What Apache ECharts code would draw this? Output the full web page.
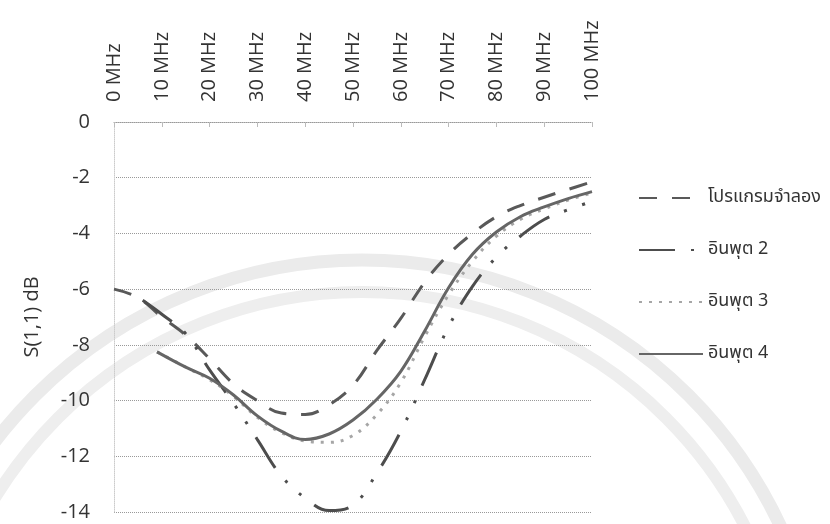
<!DOCTYPE html>
<html>
<head>
<meta charset="utf-8">
<script src="https://cdn.jsdelivr.net/npm/echarts@6/dist/echarts.min.js"></script>
<style>
html,body{margin:0;padding:0;background:#fff;}
#chart{width:830px;height:524px;}
</style>
</head>
<body>
<div id="chart"></div>
<script>
// ความถี่ (MHz) กับค่า S(1,1) dB ของแต่ละเส้น
const simMHz = [0, 5, 10, 15, 20, 25, 30, 35, 40, 45, 50, 55, 60, 65, 70, 75, 80, 85, 90, 95, 100];
const simDb  = [-6.0, -6.3, -7.0, -7.65, -8.5, -9.4, -10.0, -10.45, -10.5, -10.15, -9.45, -8.2, -7.05, -5.75, -4.75, -4.0, -3.4, -3.0, -2.7, -2.42, -2.15];

const in2MHz = [6, 10, 15, 20, 25, 30, 35, 40, 45, 50, 55, 60, 65, 70, 75, 80, 85, 90, 95, 100];
const in2Db  = [-6.4, -6.9, -7.6, -8.9, -10.1, -11.4, -12.7, -13.5, -13.95, -13.75, -12.6, -11.1, -9.25, -7.35, -5.9, -4.85, -4.1, -3.5, -3.15, -2.85];

const in3MHz = [9, 15, 20, 25, 30, 35, 40, 45, 50, 55, 60, 65, 70, 75, 80, 85, 90, 95, 100];
const in3Db  = [-8.25, -8.8, -9.25, -9.85, -10.6, -11.15, -11.45, -11.5, -11.25, -10.5, -9.35, -7.7, -6.2, -5.0, -4.1, -3.5, -3.12, -2.8, -2.55];

const in4MHz = [9, 15, 20, 25, 30, 35, 40, 45, 50, 55, 60, 65, 70, 75, 80, 85, 90, 95, 100];
const in4Db  = [-8.25, -8.8, -9.2, -9.8, -10.55, -11.1, -11.4, -11.2, -10.7, -9.95, -8.95, -7.5, -5.95, -4.75, -3.95, -3.4, -3.05, -2.75, -2.5];

const seriesNames = ['โปรแกรมจำลอง', 'อินพุต 2', 'อินพุต 3', 'อินพุต 4'];

const pairs = (xs, ys) => xs.map((x, i) => [x, ys[i]]);
const thaiFont = '"Noto Sans Thai", "Tahoma", "DejaVu Sans", sans-serif';

let chart = echarts.init(document.getElementById('chart'));
chart.setOption({
    animation: false,
    backgroundColor: '#fff',
    // ลายน้ำวงกลมจาง ๆ ด้านหลัง
    graphic: [
        { type: 'circle', z: -10, silent: true, shape: { cx: 362, cy: 722, r: 462 }, style: { fill: 'none', stroke: '#ebebeb', lineWidth: 13 } },
        { type: 'circle', z: -10, silent: true, shape: { cx: 362, cy: 722, r: 430 }, style: { fill: 'none', stroke: '#eeeeee', lineWidth: 12 } }
    ],
    grid: { left: 114, right: 238, top: 122, bottom: 12 },
    legend: {
        data: seriesNames,
        orient: 'vertical',
        left: 633,
        top: 183,
        itemWidth: 64,
        itemHeight: 12,
        itemGap: 32,
        // ซ่อนจุดกลางไอคอน ให้เหลือแต่เส้น
        itemStyle: { color: 'transparent', borderWidth: 0 },
        textStyle: { fontFamily: thaiFont, fontSize: 18, color: '#333', lineHeight: 20 }
    },
    xAxis: {
        type: 'value',
        position: 'top',
        min: 0,
        max: 100,
        interval: 10,
        axisLine: { lineStyle: { color: '#999', type: 'dotted', width: 1 } },
        axisTick: { inside: true, length: 5, lineStyle: { color: '#bbb' } },
        splitLine: { show: false },
        axisLabel: {
            rotate: 90,
            margin: 20,
            fontFamily: 'Open Sans',
            fontSize: 20,
            color: '#333',
            formatter: '{value} MHz'
        }
    },
    yAxis: {
        type: 'value',
        min: -14,
        max: 0,
        interval: 2,
        name: 'S(1,1) dB',
        nameLocation: 'middle',
        nameGap: 72,
        nameTextStyle: { fontFamily: 'Open Sans', fontSize: 20, color: '#333' },
        axisLine: { show: true, lineStyle: { color: '#ccc', type: 'dotted' } },
        axisTick: { show: false },
        splitLine: { lineStyle: { color: '#999', type: 'dotted', width: 1 } },
        axisLabel: { margin: 24, fontFamily: 'Open Sans', fontSize: 20, color: '#333' }
    },
    series: [
        {
            name: seriesNames[0], type: 'line', smooth: 0.4, symbol: 'none',
            data: pairs(simMHz, simDb),
            lineStyle: { color: '#595959', width: 3, type: [18, 15] }
        },
        {
            name: seriesNames[1], type: 'line', smooth: 0.4, symbol: 'none',
            data: pairs(in2MHz, in2Db),
            lineStyle: { color: '#4d4d4d', width: 3, type: [36, 16, 3, 16, 3, 16] }
        },
        {
            name: seriesNames[2], type: 'line', smooth: 0.4, symbol: 'none',
            data: pairs(in3MHz, in3Db),
            lineStyle: { color: '#a6a6a6', width: 3, type: [3, 7] }
        },
        {
            name: seriesNames[3], type: 'line', smooth: 0.4, symbol: 'none',
            data: pairs(in4MHz, in4Db),
            lineStyle: { color: '#666', width: 3 }
        }
    ]
});
</script>
</body>
</html>
